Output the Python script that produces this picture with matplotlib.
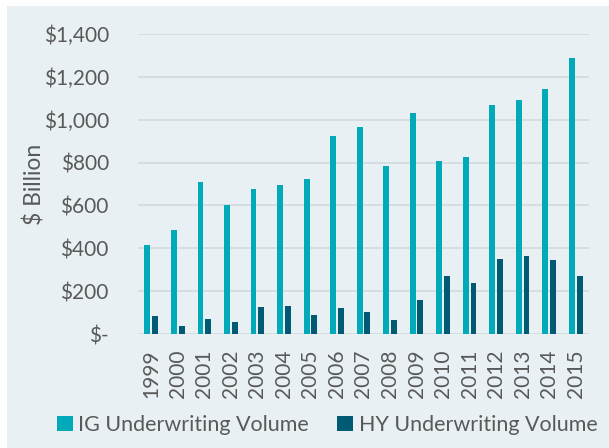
import matplotlib
matplotlib.use("Agg")
import matplotlib.pyplot as plt
from matplotlib.patches import Rectangle
import numpy as np

years = ["1999", "2000", "2001", "2002", "2003", "2004", "2005", "2006", "2007",
         "2008", "2009", "2010", "2011", "2012", "2013", "2014", "2015"]
ig_volume = [414, 484, 709, 602, 676, 695, 723, 924, 965, 785, 1030, 808, 826, 1068, 1091, 1143, 1288]
hy_volume = [86, 37, 72, 56, 126, 131, 91, 123, 105, 64, 161, 273, 239, 348, 364, 347, 272]
y_ticks = [0, 200, 400, 600, 800, 1000, 1200, 1400]
y_tick_labels = ["$-", "$200", "$400", "$600", "$800", "$1,000", "$1,200", "$1,400"]

IG_COLOR = "#00AAB9"
HY_COLOR = "#005A74"
BG = "#E8F0F3"
TEXT = "#595959"

plt.rcParams["font.family"] = ["Lato", "DejaVu Sans"]

fig = plt.figure(figsize=(6.09, 4.48), dpi=100, facecolor="white")
bg = Rectangle((7 / 609, 0), 1 - 7 / 609, 1 - 6 / 448,
               transform=fig.transFigure, facecolor=BG, edgecolor="none", zorder=-10)
fig.add_artist(bg)

ax = fig.add_axes([138 / 609, 1 - 334 / 448, (589 - 138) / 609, 300 / 448])
ax.set_facecolor("none")
ax.set_zorder(1)

x = np.arange(len(years))
w = 0.22
off = 0.145
ax.bar(x - off, ig_volume, width=w, color=IG_COLOR, label="IG Underwriting Volume", zorder=3)
ax.bar(x + off, hy_volume, width=w, color=HY_COLOR, label="HY Underwriting Volume", zorder=3)

ax.set_xlim(-0.5, len(years) - 0.5)
ax.set_ylim(0, 1400)
ax.set_yticks(y_ticks)
ax.set_yticklabels(y_tick_labels)
ax.set_xticks(x)
ax.set_xticklabels(years, rotation=90)
ax.yaxis.grid(True, color="#D3DBDF", linewidth=1.3, zorder=0)
ax.set_axisbelow(True)
for s in ax.spines.values():
    s.set_visible(False)
ax.tick_params(axis="both", length=0, colors=TEXT, labelsize=15)
ax.tick_params(axis="y", pad=21)
ax.tick_params(axis="x", pad=11)
ax.set_ylabel("$ Billion", color=TEXT, fontsize=16.5)
ax.yaxis.set_label_coords(-(138 - 46) / 451, 0.5)

leg = fig.legend(loc="center", bbox_to_anchor=(327 / 609, 1 - 425 / 448), ncol=2, frameon=False,
                 fontsize=15.5, labelcolor=TEXT, handlelength=0.75, handleheight=0.75,
                 handletextpad=0.25, columnspacing=1.3)
leg.set_zorder(2)

fig.savefig("out.png", dpi=100, facecolor="white")
